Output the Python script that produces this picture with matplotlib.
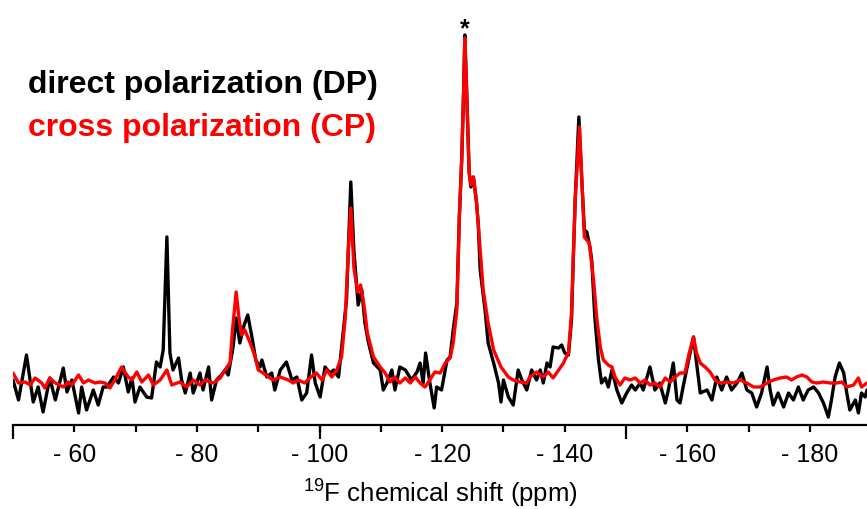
import matplotlib
matplotlib.use("Agg")
import matplotlib.pyplot as plt
from matplotlib.ticker import FixedLocator

plt.rcParams['font.family'] = ['Liberation Sans', 'DejaVu Sans']
plt.rcParams['mathtext.default'] = 'regular'

# 19F MAS NMR spectra, chemical shift (ppm) and intensity (a.u.)
dp_shift = [-50.0, -50.9, -52.2, -53.3, -54.1, -54.9, -56.0, -56.9, -58.2, -58.8,
            -59.6, -60.7, -61.2, -62.0, -63.1, -63.9, -64.7, -65.3, -66.4, -67.2,
            -68.0, -68.8, -69.4, -69.9, -70.7, -71.8, -72.6, -73.4, -74.0, -74.5,
            -75.1, -75.6, -76.1, -77.0, -77.5, -78.1, -78.9, -79.4, -80.5, -81.0,
            -81.9, -82.4, -83.2, -84.0, -84.6, -85.1, -85.9, -86.4, -87.0, -87.7,
            -88.3, -89.0, -89.6, -90.3, -90.6, -91.4, -92.2, -92.7, -93.6, -94.6,
            -95.5, -96.3, -97.1, -97.9, -98.7, -99.3, -100.1, -100.9, -101.7, -102.3,
            -103.1, -103.9, -104.4, -105.1, -105.6, -106.3, -106.9, -107.4, -108.0, -108.8,
            -109.9, -110.4, -111.0, -111.8, -112.3, -113.1, -114.0, -115.0, -115.9, -116.4,
            -116.9, -117.3, -118.0, -118.7, -119.1, -119.9, -120.8, -121.3, -121.8, -122.4,
            -122.8, -123.2, -123.5, -123.7, -124.0, -124.4, -124.7, -125.1, -125.6, -125.9,
            -126.2, -127.0, -127.5, -128.4, -129.2, -129.6, -130.0, -130.8, -131.6, -132.4,
            -133.0, -133.8, -134.6, -135.4, -136.0, -136.5, -137.1, -137.6, -138.1, -139.0,
            -139.5, -140.0, -140.6, -141.1, -141.4, -141.7, -142.3, -142.8, -143.2, -143.6,
            -144.1, -144.4, -144.9, -145.5, -146.0, -146.6, -147.1, -147.7, -148.5, -149.3,
            -150.1, -150.9, -151.5, -152.3, -152.8, -153.9, -154.7, -155.5, -156.4, -156.9,
            -157.7, -158.3, -158.8, -159.3, -160.2, -161.0, -161.5, -162.1, -163.2, -164.0,
            -164.8, -165.6, -166.4, -167.2, -168.1, -168.9, -169.7, -170.5, -171.3, -172.1,
            -173.0, -173.5, -174.0, -174.8, -175.7, -176.5, -177.3, -178.1, -178.9, -179.7,
            -180.6, -181.4, -182.2, -183.0, -183.5, -184.1, -184.8, -185.5, -186.0, -186.5,
            -187.4, -187.9, -188.4, -189.0, -189.3]
dp_intensity = [0, -20, 25, -22, -7, -32, 2, -20, 12, -12,
                0, -33, -7, -30, -10, -25, -7, -7, 3, -3,
                13, -12, 2, -22, -7, -17, -18, 18, 13, 30,
                143, 27, 10, 22, 0, -13, 7, -13, 7, -10,
                13, -20, 0, 5, 10, 5, 33, 62, 37, 55,
                65, 42, 20, 13, 20, 3, 7, -10, 10, 18,
                0, 3, -20, -13, 25, -3, -17, 13, 7, 10,
                3, 50, 80, 198, 130, 75, 90, 57, 37, 17,
                10, -10, -3, 10, -10, 13, 10, 0, 8, 17,
                -3, 27, -3, -28, -7, -10, 20, 23, 50, 77,
                162, 222, 288, 345, 288, 208, 193, 203, 178, 155,
                110, 70, 37, 17, -3, -22, 0, -17, -25, 10,
                0, -10, 10, 0, 10, -3, 17, 13, 33, 32,
                35, 27, 25, 60, 123, 180, 263, 197, 150, 148,
                133, 120, 63, 20, -3, 2, -7, 10, -10, -23,
                -13, -5, -10, -3, -10, 13, -10, -3, -23, -10,
                17, -20, -23, -7, 20, 43, 17, -13, -10, -20,
                3, -10, 3, -10, -3, 7, -10, -13, -27, -13,
                13, -10, -25, -13, -27, -13, -20, -7, -20, -10,
                -7, -13, -23, -37, -20, 3, 17, 7, -13, -30,
                -20, -33, -13, -17, -10]

cp_shift = [-50.0, -50.9, -52.0, -52.8, -53.6, -54.7, -55.2, -56.0, -56.9, -58.2,
            -59.0, -59.6, -60.7, -61.5, -62.3, -63.4, -64.2, -65.0, -65.8, -66.6,
            -67.7, -68.8, -69.4, -70.2, -71.0, -72.1, -72.9, -74.0, -75.1, -75.9,
            -77.2, -78.3, -79.4, -80.5, -81.3, -82.7, -83.8, -84.9, -85.4, -85.8,
            -86.4, -86.9, -87.3, -87.8, -88.7, -89.5, -90.0, -90.8, -91.9, -92.5,
            -93.6, -94.9, -95.7, -96.5, -97.6, -98.4, -99.5, -100.4, -101.2, -102.0,
            -102.8, -103.6, -104.2, -104.7, -105.1, -105.6, -106.2, -106.7, -107.3, -107.8,
            -108.8, -109.9, -110.7, -111.5, -112.3, -113.1, -114.0, -114.8, -115.6, -116.4,
            -117.2, -118.0, -118.8, -119.7, -120.5, -121.3, -121.8, -122.4, -122.8, -123.2,
            -123.5, -123.7, -124.0, -124.4, -124.7, -125.1, -125.6, -125.9, -126.7, -127.5,
            -128.4, -129.6, -130.8, -131.6, -132.7, -133.8, -134.3, -135.4, -136.5, -137.3,
            -138.1, -139.0, -139.8, -140.0, -140.6, -141.1, -141.7, -142.4, -142.8, -143.2,
            -144.0, -144.7, -145.2, -145.8, -146.3, -147.1, -147.7, -148.2, -149.0, -149.8,
            -150.7, -151.5, -152.3, -153.1, -153.9, -154.7, -155.5, -156.4, -157.2, -158.0,
            -158.8, -159.6, -160.3, -161.0, -161.5, -162.1, -162.9, -163.7, -164.5, -165.3,
            -166.4, -167.5, -168.6, -169.7, -170.8, -171.9, -173.0, -174.0, -175.1, -176.2,
            -177.0, -177.8, -178.7, -179.5, -180.3, -181.1, -182.2, -183.3, -184.4, -185.2,
            -186.0, -187.1, -187.9, -188.4, -189.3]
cp_intensity = [7, -3, -2, -5, 2, -3, -8, 2, -3, -7,
                -2, -5, 5, -3, 0, -3, -2, -3, -8, 0,
                13, 3, 0, 8, -2, 5, -5, 0, 10, -5,
                -2, -7, 0, -5, 0, -3, 2, 13, 17, 50,
                88, 60, 45, 50, 37, 23, 10, 7, 2, 0,
                3, 0, -3, 0, -3, 2, 7, 0, 10, 3,
                10, 23, 63, 130, 172, 113, 88, 95, 73, 47,
                23, 13, 7, -2, 3, -3, 2, -3, 3, -3,
                -7, 0, 8, 7, 17, 22, 37, 70, 162, 222,
                288, 342, 288, 208, 195, 203, 178, 155, 90, 57,
                30, 13, 3, 0, -2, -3, 3, 8, 3, 8,
                2, 10, 17, 20, 27, 67, 180, 253, 197, 143,
                137, 100, 63, 33, 20, 15, 13, 3, -5, 2,
                0, 2, -3, 0, -5, -3, -7, 2, -2, 3,
                7, 7, 27, 43, 27, 17, 13, 8, 0, -3,
                -2, -3, 0, -3, -7, -7, -3, 0, 2, 3,
                0, 3, 5, 3, -2, -3, -2, -3, -3, -2,
                -7, -5, 2, -7, -3]

marked_peak = (-123.7, 345)
major_ticks = [-50, -100, -150]
minor_ticks = [-60, -70, -80, -90, -100, -110, -120, -130, -140, -160, -170, -180]
minor_labels = ['- 60', '', '- 80', '', '- 100', '', '- 120', '', '- 140', '- 160', '', '- 180']

fig = plt.figure(figsize=(8.67, 5.09), dpi=100)
ax = fig.add_axes([13 / 867, 84 / 509, 854 / 867, 415 / 509])

ax.plot(dp_shift, dp_intensity, color='black', lw=2.4,
        solid_joinstyle='round', solid_capstyle='round', zorder=2)
ax.plot(cp_shift, cp_intensity, color='red', lw=2.4,
        solid_joinstyle='round', solid_capstyle='round', zorder=3)

ax.annotate('*', xy=marked_peak, xytext=(0, 4), textcoords='offset points',
            ha='center', va='center', fontsize=18, fontweight='bold')

ax.set_xlim(-50, -189.3)
ax.set_ylim(-45, 370)

for side in ['left', 'right', 'top']:
    ax.spines[side].set_visible(False)
ax.spines['bottom'].set_linewidth(1.6)
ax.set_yticks([])

ax.xaxis.remove_overlapping_locs = False
ax.xaxis.set_major_locator(FixedLocator(major_ticks))
ax.set_xticklabels([''] * len(major_ticks))
ax.xaxis.set_minor_locator(FixedLocator(minor_ticks))
ax.set_xticklabels(minor_labels, minor=True)
ax.tick_params(axis='x', which='major', length=10, width=1.6, direction='out')
ax.tick_params(axis='x', which='minor', length=5, width=1.6, direction='out',
               pad=8, labelsize=18)

ax.set_xlabel(r'$^{19}$F chemical shift (ppm)', fontsize=18.5, labelpad=8)

fig.text(28 / 867, 1 - 85 / 509, 'direct polarization (DP)', color='black',
         fontsize=23, fontweight='bold', va='center', ha='left')
fig.text(28 / 867, 1 - 128 / 509, 'cross polarization (CP)', color='red',
         fontsize=23, fontweight='bold', va='center', ha='left')

fig.savefig('out.png', dpi=100)
